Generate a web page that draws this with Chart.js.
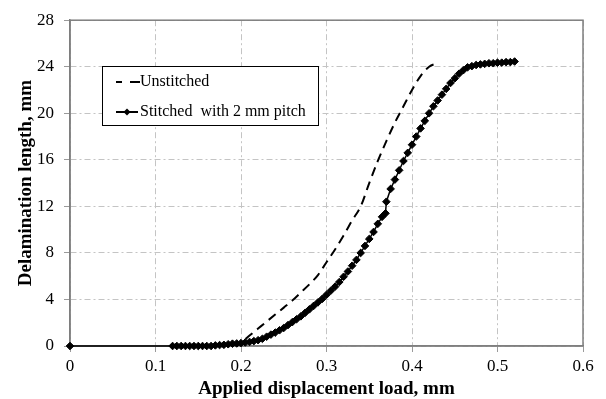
<!DOCTYPE html>
<html>
<head>
<meta charset="utf-8">
<script src="https://cdn.jsdelivr.net/npm/chart.js@4/dist/chart.umd.min.js"></script>
<style>
  html, body { margin: 0; padding: 0; background: #fff; }
  #wrap { width: 606px; height: 399px; position: relative; }
</style>
</head>
<body>
<div id="wrap"><canvas id="c" width="606" height="399"></canvas></div>
<script>
// Applied displacement (mm) vs delamination length (mm)
const unstitchedX = [0.19, 0.20, 0.21, 0.22, 0.23, 0.24, 0.25, 0.26, 0.27, 0.28, 0.29, 0.30, 0.31, 0.32, 0.33, 0.34, 0.35, 0.36, 0.37, 0.38, 0.39, 0.40, 0.41, 0.42, 0.43];
const unstitchedY = [0.0, 0.3, 0.9, 1.5, 2.1, 2.7, 3.3, 3.9, 4.6, 5.3, 6.1, 7.2, 8.3, 9.5, 10.8, 12.0, 14.0, 15.9, 17.6, 19.2, 20.6, 22.0, 23.2, 24.0, 24.3];

const stitchedX = [0, 0.12, 0.125, 0.13, 0.135, 0.14, 0.145, 0.15, 0.155, 0.16, 0.165, 0.17, 0.175, 0.18, 0.185, 0.19, 0.195, 0.20, 0.205, 0.21, 0.215, 0.22, 0.225, 0.23, 0.235, 0.24, 0.245, 0.25, 0.255, 0.26, 0.265, 0.27, 0.275, 0.28, 0.285, 0.29, 0.295, 0.30, 0.305, 0.31, 0.315, 0.32, 0.325, 0.33, 0.335, 0.34, 0.345, 0.35, 0.355, 0.36, 0.365, 0.369, 0.37, 0.375, 0.38, 0.385, 0.39, 0.395, 0.40, 0.405, 0.41, 0.415, 0.42, 0.425, 0.43, 0.435, 0.44, 0.445, 0.45, 0.455, 0.46, 0.465, 0.47, 0.475, 0.48, 0.485, 0.49, 0.495, 0.50, 0.505, 0.51, 0.515, 0.52];
const stitchedY = [0, 0, 0, 0, 0, 0, 0, 0, 0, 0, 0, 0.05, 0.08, 0.1, 0.15, 0.2, 0.22, 0.25, 0.3, 0.35, 0.42, 0.5, 0.62, 0.8, 0.98, 1.15, 1.35, 1.55, 1.8, 2.05, 2.3, 2.55, 2.85, 3.15, 3.45, 3.75, 4.05, 4.4, 4.75, 5.1, 5.5, 5.95, 6.4, 6.9, 7.4, 8.0, 8.6, 9.2, 9.8, 10.5, 11.1, 11.4, 12.4, 13.5, 14.3, 15.1, 15.9, 16.6, 17.3, 18.0, 18.7, 19.35, 20.0, 20.6, 21.1, 21.6, 22.1, 22.6, 23.0, 23.4, 23.7, 23.95, 24.05, 24.15, 24.2, 24.25, 24.3, 24.3, 24.35, 24.35, 24.4, 24.4, 24.45];

const xTicks = [0, 0.1, 0.2, 0.3, 0.4, 0.5, 0.6];
const yTicks = [0, 4, 8, 12, 16, 20, 24, 28];
const seriesNames = ['Unstitched', 'Stitched  with 2 mm pitch'];
const xTitle = 'Applied displacement load, mm';
const yTitle = 'Delamination length, mm';

const toPoints = (xs, ys) => xs.map((x, i) => ({ x, y: ys[i] }));

const SERIF = '"Liberation Serif", "Times New Roman", serif';

// Plot frame, drawn under the data
const frame = {
  id: 'frame',
  beforeDatasetsDraw(chart) {
    const { ctx, chartArea: a } = chart;
    ctx.save();
    ctx.strokeStyle = '#7f7f7f';
    ctx.lineWidth = 1.5;
    ctx.setLineDash([]);
    ctx.strokeRect(a.left, a.top, a.right - a.left, a.bottom - a.top);
    ctx.restore();
  }
};

// Axis titles and legend box
const decorations = {
  id: 'decorations',
  afterDraw(chart) {
    const { ctx, chartArea: a } = chart;
    ctx.save();
    ctx.fillStyle = '#000';
    ctx.font = 'bold 19px ' + SERIF;
    ctx.textAlign = 'center';
    ctx.textBaseline = 'middle';
    ctx.fillText(xTitle, (a.left + a.right) / 2, 389);
    ctx.save();
    ctx.translate(26, (a.top + a.bottom) / 2);
    ctx.rotate(-Math.PI / 2);
    ctx.fillText(yTitle, 0, 0);
    ctx.restore();

    // legend
    ctx.fillStyle = '#fff';
    ctx.fillRect(102.5, 66.5, 216, 59);
    ctx.strokeStyle = '#000';
    ctx.lineWidth = 1;
    ctx.strokeRect(102.5, 66.5, 216, 59);

    ctx.lineWidth = 2;
    ctx.beginPath();
    ctx.moveTo(116, 82); ctx.lineTo(122, 82);
    ctx.moveTo(130, 82); ctx.lineTo(140, 82);
    ctx.stroke();

    ctx.beginPath();
    ctx.moveTo(116, 112); ctx.lineTo(138, 112);
    ctx.stroke();
    ctx.fillStyle = '#000';
    ctx.beginPath();
    ctx.moveTo(127, 108.5); ctx.lineTo(130.5, 112); ctx.lineTo(127, 115.5); ctx.lineTo(123.5, 112);
    ctx.closePath();
    ctx.fill();

    ctx.font = '16px ' + SERIF;
    ctx.textAlign = 'left';
    ctx.fillText(seriesNames[0], 140, 82);
    ctx.fillText(seriesNames[1], 140, 112);
    ctx.restore();
  }
};

const gridOpts = {
  color: '#c4c4c4',
  tickLength: 6,
  tickColor: '#9a9a9a',
  tickBorderDash: []
};

new Chart(document.getElementById('c'), {
  type: 'scatter',
  data: {
    datasets: [
      {
        label: seriesNames[0],
        data: toPoints(unstitchedX, unstitchedY),
        showLine: true,
        borderColor: '#000',
        borderWidth: 2,
        borderDash: [9, 6],
        pointRadius: 0,
        cubicInterpolationMode: 'monotone'
      },
      {
        label: seriesNames[1],
        data: toPoints(stitchedX, stitchedY),
        showLine: true,
        clip: false,
        borderColor: '#000',
        borderWidth: 1.5,
        pointStyle: 'rectRot',
        pointRadius: 3.8,
        pointBackgroundColor: '#000',
        pointBorderColor: '#000',
        pointBorderWidth: 1,
        tension: 0
      }
    ]
  },
  plugins: [frame, decorations],
  options: {
    responsive: false,
    animation: false,
    events: [],
    layout: { padding: { left: 0, top: 16, right: 23, bottom: 0 } },
    plugins: {
      legend: { display: false },
      tooltip: { enabled: false }
    },
    scales: {
      x: {
        type: 'linear',
        min: 0,
        max: 0.6,
        afterBuildTicks: (s) => { s.ticks = xTicks.map(v => ({ value: v })); },
        afterFit: (s) => { s.height = 53; },
        ticks: {
          padding: 4,
          color: '#000',
          font: { family: SERIF, size: 17 },
          callback: (v) => String(v)
        },
        grid: gridOpts,
        border: { color: '#7f7f7f', width: 1.5, dash: [6, 3, 2, 3] }
      },
      y: {
        type: 'linear',
        min: 0,
        max: 28,
        afterBuildTicks: (s) => { s.ticks = yTicks.map(v => ({ value: v })); },
        afterFit: (s) => { s.width = 70; },
        ticks: {
          padding: 10,
          color: '#000',
          font: { family: SERIF, size: 17 }
        },
        grid: gridOpts,
        border: { color: '#7f7f7f', width: 1.5, dash: [6, 3, 2, 3] }
      }
    }
  }
});
</script>
</body>
</html>
